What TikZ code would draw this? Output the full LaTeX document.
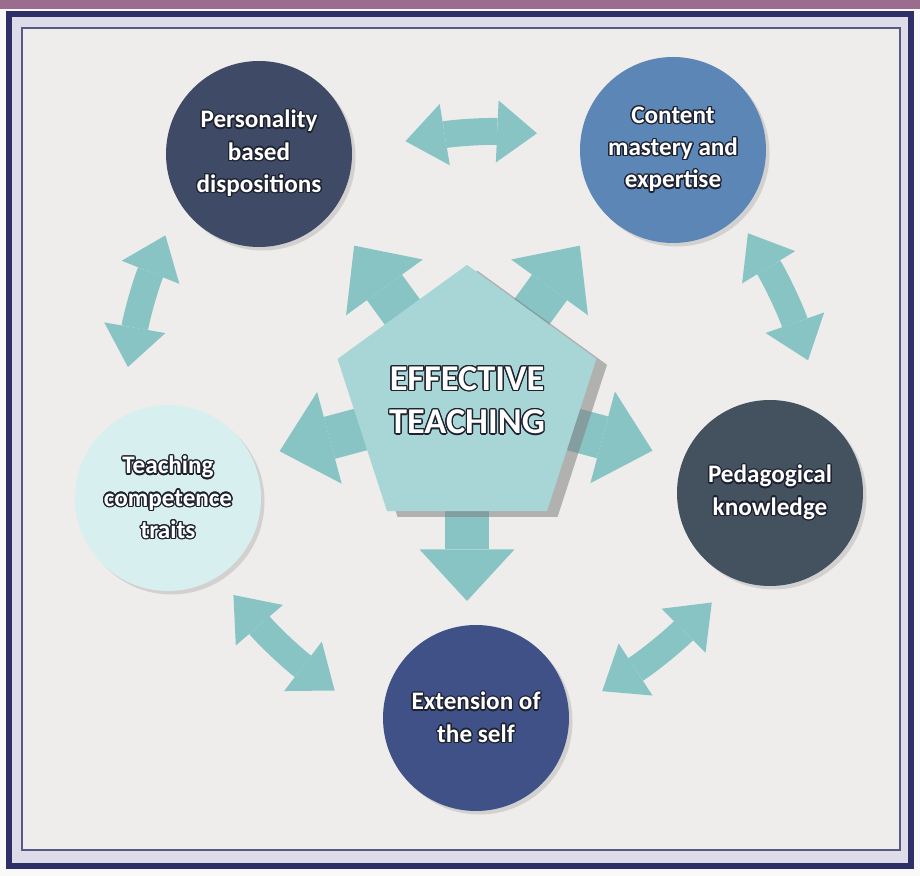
\documentclass[tikz,border=0pt]{standalone}
\usepackage{fontspec}
\setmainfont{Carlito}
\usepackage{contour}
\usetikzlibrary{shapes.geometric,arrows.meta,shadows,calc}

\pgfdeclarelayer{back}
\pgfdeclarelayer{bg}
\pgfsetlayers{back,bg,main}

\definecolor{ink}{HTML}{1E2230}
\definecolor{persblue}{HTML}{3E4A66}
\definecolor{contentblue}{HTML}{5B86B5}
\definecolor{pedaslate}{HTML}{44525F}
\definecolor{extnavy}{HTML}{3F5186}
\definecolor{teachcyan}{HTML}{D8EFEF}
\definecolor{coreteal}{HTML}{A8D5D6}
\definecolor{arrowteal}{HTML}{89C4C5}
\definecolor{paper}{HTML}{EEEDEB}
\definecolor{framenavy}{HTML}{2D2F66}
\definecolor{bandlav}{HTML}{DEDCE9}
\definecolor{mauve}{HTML}{9C6C8E}

\contourlength{1.1pt}
\newcommand{\outl}[1]{\contour{ink}{#1}}

\begin{document}
\begin{tikzpicture}[x=0.3mm,y=0.3mm,
    topic/.style={circle,minimum size=55.8mm,inner sep=0pt,align=center,text=white,
      font=\bfseries\fontsize{21.5}{27.5}\selectfont,
      drop shadow={shadow xshift=3pt,shadow yshift=-3pt,opacity=.25}},
    core/.style={regular polygon,regular polygon sides=5,minimum size=78.6mm,inner sep=0pt,
      fill=coreteal,align=center,text=white,font=\bfseries\fontsize{31}{37}\selectfont,
      drop shadow={shadow xshift=9pt,shadow yshift=-5pt,opacity=.55}},
    outarrow/.style={arrowteal,line width=37pt,-{Triangle[length=44pt,width=81pt,line width=0pt]}},
    twoway/.style={arrowteal,line width=23pt,
      {Triangle[length=34pt,width=53pt,line width=0pt]}-{Triangle[length=34pt,width=53pt,line width=0pt]}}]
  \useasboundingbox (0,0) rectangle (920,876);

  % frame
  \begin{pgfonlayer}{back}
    \fill[white!95!gray] (0,0) rectangle (920,876);
    \fill[mauve] (0,867) rectangle (920,876);
    \fill[bandlav] (9,10) rectangle (911,862);
    \fill[paper] (22,26) rectangle (900,848);
    \draw[framenavy,line width=4.5pt] (9,10) rectangle (911,862);
    \draw[framenavy!80,line width=2pt] (22,26) rectangle (900,848);
  \end{pgfonlayer}

  % circles
  \node[topic,fill=persblue] (pers) at (259,722) {\outl{Personality}\\\outl{based}\\\outl{dispositions}};
  \node[topic,fill=contentblue] (content) at (673,726) {\outl{Content}\\\outl{mastery and}\\\outl{expertise}};
  \node[topic,fill=pedaslate] (peda) at (770,383) {\outl{Pedagogical}\\\outl{knowledge}};
  \node[topic,fill=extnavy] (ext) at (476,158) {\outl{Extension of}\\\outl{the self}};
  \node[topic,fill=teachcyan] (teach) at (168,378) {\outl{Teaching}\\\outl{competence}\\\outl{traits}};

  % centre
  \node[core] (core) at (467,475) {\outl{EFFECTIVE}\\\outl{TEACHING}};

  \begin{pgfonlayer}{bg}
    % out of the centre
    \draw[outarrow] (core.center) -- ($(core)+(126:192)$);
    \draw[outarrow] (core.center) -- ($(core)+(54:192)$);
    \draw[outarrow] (core.center) -- ($(core)+(-15:192)$);
    \draw[outarrow] (core.center) -- ($(core)+(195:194)$);
    \draw[outarrow] (core.center) -- ($(core)+(270:200)$);
    % round the ring
    \draw[twoway] ($(pers)+(5:147)$) to[bend left=6] ($(content)+(173:137)$);
    \draw[twoway] ($(content)+(312:112)$) to[bend left=6] ($(peda)+(74:138)$);
    \draw[twoway] ($(peda)+(242:124)$) to[bend left=6] ($(ext)+(12:129)$);
    \draw[twoway] ($(ext)+(169:144)$) to[bend left=6] ($(teach)+(304:117)$);
    \draw[twoway] ($(teach)+(107:137)$) to[bend left=6] ($(pers)+(221:124)$);
  \end{pgfonlayer}
\end{tikzpicture}
\end{document}
